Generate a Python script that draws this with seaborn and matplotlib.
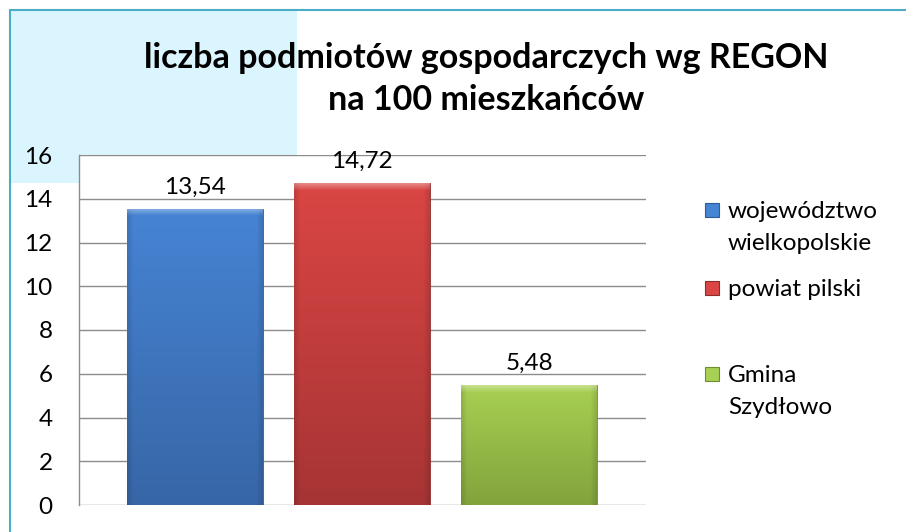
import numpy as np
import pandas as pd
import matplotlib
matplotlib.use("Agg")
import matplotlib.pyplot as plt
from matplotlib.patches import Rectangle
from matplotlib.lines import Line2D
from matplotlib.colors import to_rgb
import seaborn as sns

# ---- data ----
series = ["województwo wielkopolskie", "powiat pilski", "Gmina Szydłowo"]
legend_labels = ["województwo\nwielkopolskie", "powiat pilski", "Gmina\nSzydłowo"]
values = [13.54, 14.72, 5.48]
yticks = [0, 2, 4, 6, 8, 10, 12, 14, 16]
title = "liczba podmiotów gospodarczych wg REGON\nna 100 mieszkańców"

top_colors = ["#4684D4", "#DA4644", "#A8D052"]
bot_colors = ["#3766A6", "#A63434", "#82A33C"]
edge_colors = ["#2F5C96", "#8E2C2C", "#6F8C34"]

sns.set_theme(style="white")
plt.rcParams["font.family"] = ["Lato", "DejaVu Sans"]

W, H = 906, 532
FS = 17.5
fig = plt.figure(figsize=(W / 100, H / 100), dpi=100)
fig.patch.set_facecolor("white")

# light blue corner box
fig.add_artist(Rectangle((10 / W, 1 - 183 / H), 287 / W, 173 / H,
                         transform=fig.transFigure, facecolor="#DAF5FD",
                         edgecolor="none", zorder=0))
# frame lines (top & left)
fig.add_artist(Line2D([10 / W, 1], [1 - 10 / H, 1 - 10 / H], transform=fig.transFigure,
                      color="#4BACC6", lw=1.5, zorder=1))
fig.add_artist(Line2D([10 / W, 10 / W], [0, 1 - 10 / H], transform=fig.transFigure,
                      color="#4BACC6", lw=1.5, zorder=1))

ax = fig.add_axes([79 / W, 1 - 505 / H, (646 - 79) / W, (505 - 155) / H])
ax.set_facecolor("white")
ax.set_zorder(2)

df = pd.DataFrame({"series": series, "value": values})
sns.barplot(data=df, x="series", y="value", hue="series", order=series,
            hue_order=series, palette=top_colors, width=0.81, dodge=False,
            legend=False, ax=ax, zorder=3)

# bevelled gradient fill for each bar
for i, p in enumerate(ax.patches):
    x0, y0 = p.get_x(), p.get_y()
    w, h = p.get_width(), p.get_height()
    hpx = max(int(h / 16 * 350), 2)
    wpx = 135
    t = np.linspace(0, 1, hpx).reshape(-1, 1)  # 0 bottom, 1 top
    top = np.array(to_rgb(top_colors[i]))
    bot = np.array(to_rgb(bot_colors[i]))
    img = bot + (top - bot) * t[..., None]
    img = np.repeat(img, wpx, axis=1)
    # darker side bevels
    side = 6
    for k in range(side):
        f = 0.88 + 0.12 * k / side
        img[:, k] *= f
        img[:, wpx - 1 - k] *= f
    # lighter top bevel
    tb = 7
    for k in range(tb):
        f = 0.35 * (1 - k / tb)
        img[hpx - 1 - k] = img[hpx - 1 - k] + (1 - img[hpx - 1 - k]) * f
    img = np.clip(img, 0, 1)
    im = ax.imshow(img, origin="lower", aspect="auto",
                   extent=(x0, x0 + w, y0, y0 + h), zorder=3.5,
                   interpolation="bilinear")
    im.set_clip_path(p)
    p.set_edgecolor(edge_colors[i])
    p.set_linewidth(0.6)
    p.set_zorder(3)

ax.set_xlim(-0.695, 2.70)
ax.set_ylim(0, 16)
ax.set_yticks(yticks)
ax.set_yticklabels([str(t) for t in yticks], fontsize=FS)
ax.tick_params(axis="y", length=0, pad=19, colors="black")
ax.set_xticks([])
ax.set_xlabel("")
ax.set_ylabel("")
ax.yaxis.grid(True, color="#8C8C8C", lw=1.0)
ax.set_axisbelow(True)
for s in ["top", "right", "bottom"]:
    ax.spines[s].set_visible(False)
ax.spines["left"].set_color("#8C8C8C")
ax.spines["left"].set_linewidth(1.0)

for i, p in enumerate(ax.patches):
    ax.annotate(f"{values[i]:.2f}".replace(".", ","),
                (p.get_x() + p.get_width() / 2, p.get_height()),
                xytext=(0, 15.5), textcoords="offset points",
                ha="center", va="center", fontsize=FS, color="black", zorder=5)

fig.text(486 / W, 1 - 79 / H, title, ha="center", va="center", fontsize=24.5,
         fontweight="bold", linespacing=1.38, color="black")

# legend
leg_y = [211, 289, 375]
for i in range(3):
    y = leg_y[i]
    fig.add_artist(Rectangle((705 / W, 1 - (y + 6) / H), 14 / W, 14 / H,
                             transform=fig.transFigure, facecolor=top_colors[i],
                             edgecolor=edge_colors[i], lw=0.8))
    lines = legend_labels[i].split("\n")
    for k, ln in enumerate(lines):
        fig.text(728 / W, 1 - (y + 33 * k) / H, ln, ha="left", va="center",
                 fontsize=FS, color="black")

fig.savefig("out.png", dpi=100, facecolor="white")
